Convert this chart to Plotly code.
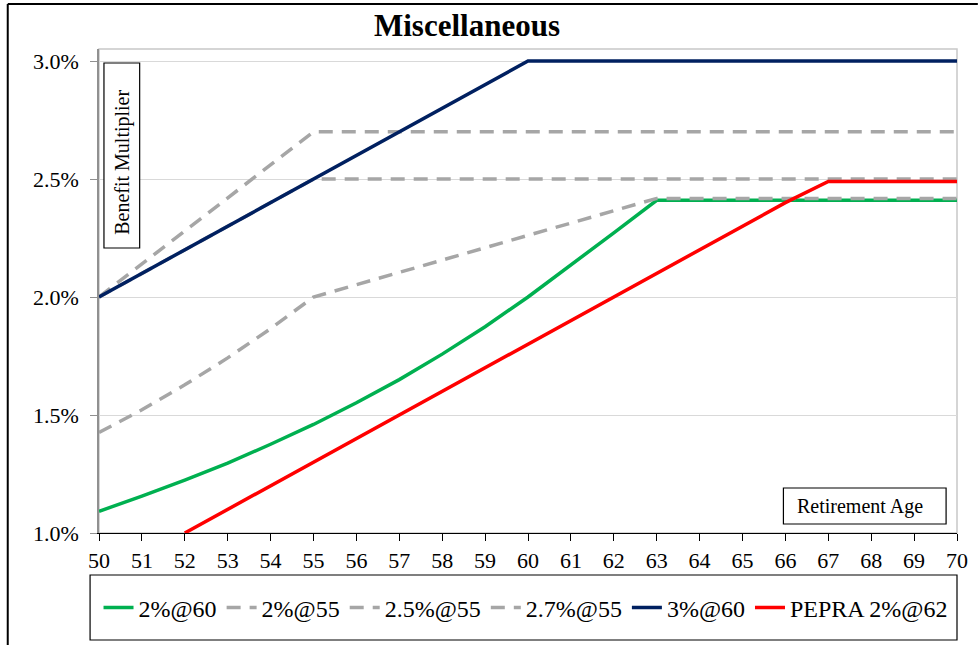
import plotly.graph_objects as go

ages = list(range(50, 71))

s_2at60 = [1.092, 1.156, 1.224, 1.296, 1.376, 1.460, 1.552, 1.650, 1.758, 1.874, 2.000,
           2.134, 2.272, 2.410, 2.410, 2.410, 2.410, 2.410, 2.410, 2.410, 2.410]
s_2at55 = [1.426, 1.522, 1.628, 1.742, 1.866, 2.000, 2.052, 2.104, 2.156, 2.210, 2.262,
           2.314, 2.366, 2.418, 2.418, 2.418, 2.418, 2.418, 2.418, 2.418, 2.418]
s_25at55 = [2.00, 2.10, 2.20, 2.30, 2.40, 2.50, 2.50, 2.50, 2.50, 2.50, 2.50,
            2.50, 2.50, 2.50, 2.50, 2.50, 2.50, 2.50, 2.50, 2.50, 2.50]
s_27at55 = [2.00, 2.14, 2.28, 2.42, 2.56, 2.70, 2.70, 2.70, 2.70, 2.70, 2.70,
            2.70, 2.70, 2.70, 2.70, 2.70, 2.70, 2.70, 2.70, 2.70, 2.70]
s_3at60 = [2.00, 2.10, 2.20, 2.30, 2.40, 2.50, 2.60, 2.70, 2.80, 2.90, 3.00,
           3.00, 3.00, 3.00, 3.00, 3.00, 3.00, 3.00, 3.00, 3.00, 3.00]
pepra_ages = list(range(52, 71))
s_pepra = [1.00, 1.10, 1.20, 1.30, 1.40, 1.50, 1.60, 1.70, 1.80, 1.90, 2.00,
           2.10, 2.20, 2.30, 2.40, 2.49, 2.49, 2.49, 2.49]

y_ticks = [1.0, 1.5, 2.0, 2.5, 3.0]
y_tick_labels = ["1.0%", "1.5%", "2.0%", "2.5%", "3.0%"]

FONT = "Liberation Serif, Times New Roman, serif"
GREEN = "#00B050"
GRAY = "#A6A6A6"
NAVY = "#002060"
RED = "#FF0000"
DASH = "14px,9px"
LW = 3.5

fig = go.Figure()
fig.add_trace(go.Scatter(x=ages, y=s_2at60, mode="lines", name="2%@60",
                         line=dict(color=GREEN, width=LW)))
fig.add_trace(go.Scatter(x=ages, y=s_2at55, mode="lines", name="2%@55",
                         line=dict(color=GRAY, width=LW, dash=DASH)))
fig.add_trace(go.Scatter(x=ages, y=s_25at55, mode="lines", name="2.5%@55",
                         line=dict(color=GRAY, width=LW, dash=DASH)))
fig.add_trace(go.Scatter(x=ages, y=s_27at55, mode="lines", name="2.7%@55",
                         line=dict(color=GRAY, width=LW, dash=DASH)))
fig.add_trace(go.Scatter(x=ages, y=s_3at60, mode="lines", name="3%@60",
                         line=dict(color=NAVY, width=LW)))
fig.add_trace(go.Scatter(x=pepra_ages, y=s_pepra, mode="lines", name="PEPRA 2%@62",
                         line=dict(color=RED, width=LW)))

L, R, T, B = 99, 16, 49, 112
W, H = 980, 645
PW, PH = W - L - R, H - T - B


def px(xp):
    return (xp - L) / PW


def py(yp):
    return (H - B - yp) / PH


shapes = [
    # plot area border
    dict(type="rect", xref="paper", yref="paper", x0=0, x1=1, y0=0, y1=1,
         line=dict(color="#C8C8C8", width=1.5), layer="below"),
    # outer chart frame (top and left edges visible)
    dict(type="line", xref="paper", yref="paper", x0=px(7), x1=px(985), y0=py(4), y1=py(4),
         line=dict(color="black", width=2)),
    dict(type="line", xref="paper", yref="paper", x0=px(7), x1=px(7), y0=py(4), y1=py(650),
         line=dict(color="black", width=2)),
    # legend box
    dict(type="rect", xref="paper", yref="paper", x0=px(90), x1=px(964), y0=py(640), y1=py(575),
         line=dict(color="black", width=1.2)),
    # label boxes
    dict(type="rect", xref="paper", yref="paper", x0=px(104), x1=px(140), y0=py(248), y1=py(63),
         line=dict(color="black", width=1.2), fillcolor="white"),
    dict(type="rect", xref="paper", yref="paper", x0=px(789), x1=px(953), y0=py(524), y1=py(488),
         line=dict(color="black", width=1.2), fillcolor="white"),
]

annotations = [
    dict(text="Benefit Multiplier", xref="paper", yref="paper", x=px(122), y=py(162),
         textangle=-90, showarrow=False, font=dict(family=FONT, size=20, color="black"),
         xanchor="center", yanchor="middle"),
    dict(text="Retirement Age", xref="paper", yref="paper", x=px(866), y=py(506),
         showarrow=False, font=dict(family=FONT, size=20, color="black"),
         xanchor="center", yanchor="middle"),
]

fig.update_layout(
    width=W, height=H,
    margin=dict(l=L, r=R, t=T, b=B),
    paper_bgcolor="white", plot_bgcolor="white",
    title=dict(text="<b>Miscellaneous</b>", x=px(470), xref="paper", xanchor="center",
               y=1 - 25 / H, yanchor="middle",
               font=dict(family=FONT, size=31, color="black")),
    font=dict(family=FONT, color="black"),
    showlegend=True,
    legend=dict(orientation="h", xref="paper", yref="paper", x=px(529), xanchor="center",
                y=py(608), yanchor="middle", bgcolor="rgba(0,0,0,0)",
                font=dict(family=FONT, size=24, color="black"),
                itemwidth=30, tracegroupgap=0),
    xaxis=dict(range=[50, 70], tickmode="array", tickvals=ages,
               ticktext=[str(a) for a in ages], ticks="outside", ticklen=7,
               tickcolor="black", tickwidth=1.2, showline=True, linecolor="black",
               linewidth=1.2, showgrid=False, zeroline=False,
               tickfont=dict(family=FONT, size=22, color="black")),
    yaxis=dict(range=[1.0, 3.051], tickmode="array", tickvals=y_ticks,
               ticktext=y_tick_labels, ticks="outside", ticklen=7,
               tickcolor="#909090", tickwidth=1.2, showline=True, linecolor="#909090",
               linewidth=1.5, showgrid=True, gridcolor="#D9D9D9", gridwidth=1.2,
               zeroline=False, ticklabelstandoff=7,
               tickfont=dict(family=FONT, size=22, color="black")),
    shapes=shapes,
    annotations=annotations,
)

fig.write_html("out.html", config={"displayModeBar": False},
               post_script="document.body.style.margin='0';")
